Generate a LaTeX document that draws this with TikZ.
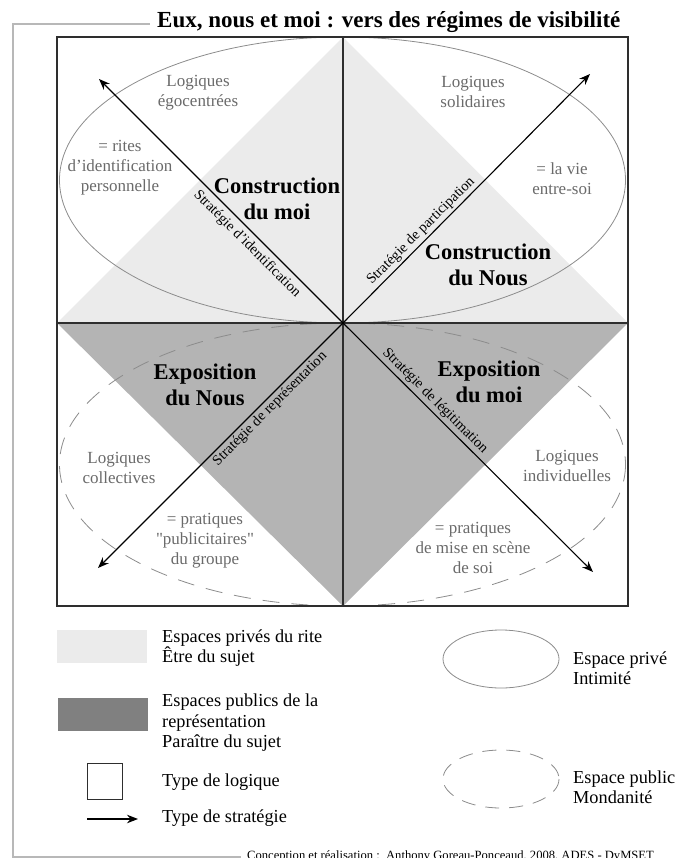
\documentclass[tikz,border=0pt]{standalone}
\usepackage{fontspec}
\setmainfont{Liberation Serif}
\newfontfamily\plainquote{Liberation Serif}
\usetikzlibrary{arrows.meta}
\definecolor{lightfill}{HTML}{EBEBEB}
\definecolor{darkfill}{HTML}{B4B4B4}
\definecolor{legdark}{HTML}{808080}
\definecolor{txtgray}{HTML}{6A6A6A}
\definecolor{ellgray}{HTML}{8C8C8C}
\definecolor{framegray}{HTML}{B8B8B8}
\definecolor{bordercol}{HTML}{2E2E2E}
\tikzset{
  graylbl/.style={text=txtgray, align=center, font=\fontsize{17}{20}\selectfont, inner sep=0pt},
  boldlbl/.style={align=center, font=\fontsize{22.5}{26}\selectfont\bfseries, inner sep=0pt},
  stratlbl/.style={font=\fontsize{14.5}{16}\selectfont, inner sep=0pt},
  legtxt/.style={align=left, font=\fontsize{18.3}{20.5}\selectfont, inner sep=0pt, anchor=west},
  stratarrow/.style={line width=1.1pt, -{Stealth[length=11pt,width=8.5pt]}},
  privell/.style={draw=ellgray, line width=0.8pt},
  publell/.style={draw=ellgray, line width=0.8pt, dash pattern=on 17pt off 12pt},
}
\begin{document}
\begin{tikzpicture}[x=1pt,y=-1pt]
\useasboundingbox (0,0) rectangle (677,858);
% coordinates
\coordinate (c) at (343,323);
\coordinate (sqtl) at (57,37);
\coordinate (sqbr) at (628,606);
\coordinate (tl) at (99,79);
\coordinate (tr) at (590,74);
\coordinate (bl) at (98,568);
\coordinate (br) at (593,572);
% outer frame
\draw[framegray, line width=1.3pt] (150,24) -- (13,24) -- (13,857) -- (241,857);
% fills
\fill[lightfill] (343,37) -- (57,323) -- (628,323) -- cycle;
\fill[darkfill] (57,323) -- (628,323) -- (343,606) -- cycle;
% ellipses
\draw[privell] (342.5,180) ellipse [x radius=283, y radius=143];
\draw[publell] (342.5,464.5) ellipse [x radius=283, y radius=141.5];
% square and axes
\draw[bordercol, line width=1.5pt] (sqtl) rectangle (sqbr);
\draw[bordercol, line width=1.6pt] (343,37) -- (343,606);
\draw[bordercol, line width=2.4pt] (57,323) -- (628,323);
% strategy arrows
\draw[stratarrow] (c) -- (tl);
\draw[stratarrow] (c) -- (tr);
\draw[stratarrow] (c) -- (bl);
\draw[stratarrow] (c) -- (br);
% strategy labels
\node[stratlbl, rotate=-45] (sid) at (247,244) {Stratégie d'identification};
\node[stratlbl, rotate=45] (spa) at (421,231) {Stratégie de participation};
\node[stratlbl, rotate=45] (sre) at (270,409) {Stratégie de représentation};
\node[stratlbl, rotate=-45] (sle) at (435,401) {Stratégie de légitimation};
% bold labels
\node[boldlbl] (cmoi) at (277,199) {Construction\\du moi};
\node[boldlbl] (cnous) at (488,265) {Construction\\du Nous};
\node[boldlbl] (enous) at (205,385) {Exposition\\du Nous};
\node[boldlbl] (emoi) at (489,382) {Exposition\\du moi};
% gray labels
\node[graylbl] (lego) at (198,93) {Logiques\\égocentrées};
\node[graylbl] (rites) at (120,168) {= rites\\d'identification\\personnelle};
\node[graylbl] (lsol) at (473,92) {Logiques\\solidaires};
\node[graylbl] (vie) at (562,179) {= la vie\\entre-soi};
\node[graylbl] (lcol) at (119,468) {Logiques\\collectives};
\node[graylbl] (pub) at (205,541) {= pratiques\\{\plainquote"}publicitaires{\plainquote"}\\du groupe};
\node[graylbl] (lind) at (567,466) {Logiques\\individuelles};
\node[graylbl] (mise) at (473,548) {= pratiques\\de mise en scène\\de soi};
% title
\node[anchor=base west, inner sep=0pt, font=\fontsize{23}{25}\selectfont\bfseries] (title) at (157,28) {Eux, nous et moi : vers des régimes de visibilité};
% legend
\fill[lightfill] (57,630) rectangle (147,663);
\fill[legdark] (58,698) rectangle (148,731);
\draw[bordercol, line width=0.8pt] (87.5,763) rectangle (122,799);
\coordinate (la1) at (87,819);
\coordinate (la2) at (138,819);
\draw[stratarrow] (la1) -- (la2);
\node[legtxt] (lg1) at (162,648) {Espaces privés du rite\\Être du sujet};
\node[legtxt] (lg2) at (162,723) {Espaces publics de la\\représentation\\Paraître du sujet};
\node[legtxt] (lg3) at (162,782) {Type de logique};
\node[legtxt] (lg4) at (162,818) {Type de stratégie};
\draw[privell] (501,659) ellipse [x radius=58, y radius=29];
\draw[ellgray, line width=0.8pt, dash pattern=on 14pt off 10pt] (501,779) ellipse [x radius=58, y radius=29];
\node[legtxt] (lg5) at (573,668) {Espace privé\\Intimité};
\node[legtxt] (lg6) at (573,787) {Espace public\\Mondanité};
% credit
\node[anchor=base west, inner sep=0pt, font=\fontsize{12.6}{14}\selectfont] (credit) at (247,859) {Conception et réalisation :\ \ Anthony Goreau-Ponceaud, 2008, ADES - DyMSET};
\end{tikzpicture}
\end{document}
